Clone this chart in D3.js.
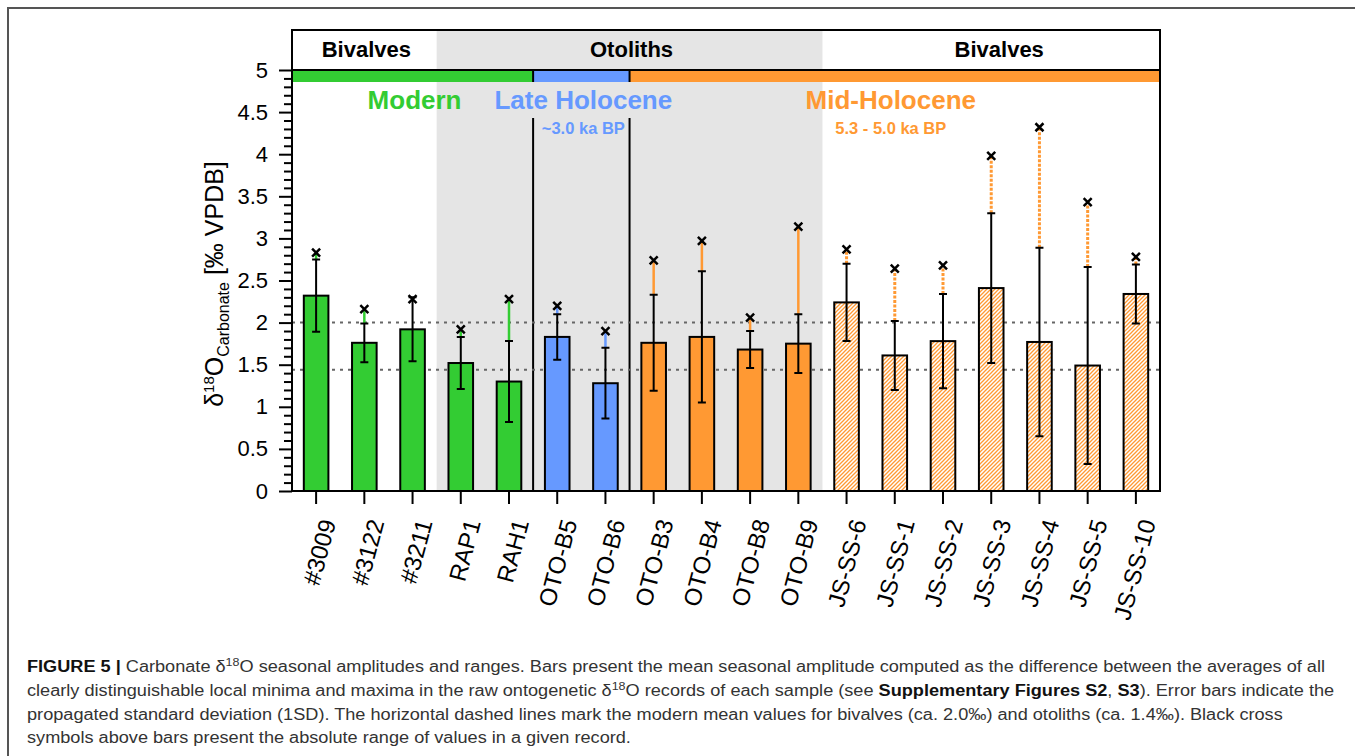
<!DOCTYPE html>
<html>
<head>
<meta charset="utf-8">
<script src="https://cdn.jsdelivr.net/npm/d3@7"></script>
<style>
  html, body { margin: 0; padding: 0; background: #fff; }
  svg { display: block; font-family: "Liberation Sans", Arial, sans-serif; }
</style>
</head>
<body>
<svg id="fig" width="1355" height="756"></svg>
<script>
// sample names (x categories)
const samples = ["#3009", "#3122", "#3211", "RAP1", "RAH1", "OTO-B5", "OTO-B6", "OTO-B3", "OTO-B4", "OTO-B8", "OTO-B9",
                 "JS-SS-6", "JS-SS-1", "JS-SS-2", "JS-SS-3", "JS-SS-4", "JS-SS-5", "JS-SS-10"];
const material = ["Bivalves", "Bivalves", "Bivalves", "Otoliths", "Otoliths", "Otoliths", "Otoliths", "Otoliths", "Otoliths", "Otoliths", "Otoliths",
                  "Bivalves", "Bivalves", "Bivalves", "Bivalves", "Bivalves", "Bivalves", "Bivalves"];
const period = ["Modern", "Modern", "Modern", "Modern", "Modern", "Late Holocene", "Late Holocene",
                "Mid-Holocene", "Mid-Holocene", "Mid-Holocene", "Mid-Holocene", "Mid-Holocene", "Mid-Holocene", "Mid-Holocene",
                "Mid-Holocene", "Mid-Holocene", "Mid-Holocene", "Mid-Holocene"];
// mean seasonal amplitude
const amplitude = [2.32, 1.76, 1.92, 1.52, 1.30, 1.83, 1.28, 1.76, 1.83, 1.68, 1.75, 2.24, 1.61, 1.78, 2.41, 1.77, 1.49, 2.34];
// propagated 1SD
const sd = [0.43, 0.23, 0.38, 0.31, 0.48, 0.27, 0.42, 0.57, 0.78, 0.22, 0.35, 0.46, 0.41, 0.56, 0.89, 1.12, 1.17, 0.35];
// absolute range (cross symbols)
const range = [2.83, 2.16, 2.28, 1.92, 2.28, 2.20, 1.90, 2.74, 2.97, 2.06, 3.14, 2.87, 2.64, 2.68, 3.98, 4.32, 3.43, 2.78];
// modern reference means: bivalves, otoliths
const refLines = [2.0, 1.44];
const yTicks = [0, 0.5, 1, 1.5, 2, 2.5, 3, 3.5, 4, 4.5, 5];
const periods = ["Modern", "Late Holocene", "Mid-Holocene"];
const periodAges = ["", "~3.0 ka BP", "5.3 - 5.0 ka BP"];
const periodColors = { "Modern": "#33CC33", "Late Holocene": "#6699FF", "Mid-Holocene": "#FF9933" };

const data = samples.map((s, i) => ({
  name: s, material: material[i], period: period[i],
  mean: amplitude[i], sd: sd[i], range: range[i],
  hatched: period[i] === "Mid-Holocene" && material[i] === "Bivalves"
}));

const svg = d3.select("#fig");
const plotL = 292, plotR = 1160, plotT = 30, plotB = 491;

// 外框
svg.append("path")
  .attr("d", "M8,770 L8,8 L1370,8")
  .attr("fill", "none").attr("stroke", "#555").attr("stroke-width", 2);

const x = d3.scaleBand().domain(samples).range([plotL, plotR]).paddingInner(0.49).paddingOuter(0.245);
const y = d3.scaleLinear().domain([0, 5]).range([plotB, 70]);
const half = (x.step() - x.bandwidth()) / 2;
const edgeL = name => x(name) - half;
const edgeR = name => x(name) + x.bandwidth() + half;
const cx = name => x(name) + x.bandwidth() / 2;

// hatch pattern
const defs = svg.append("defs");
const pat = defs.append("pattern").attr("id", "hatch").attr("patternUnits", "userSpaceOnUse")
  .attr("width", 4).attr("height", 4);
pat.append("rect").attr("width", 4).attr("height", 4).attr("fill", "#fff");
pat.append("path").attr("d", "M-1,1 L1,-1 M0,4 L4,0 M3,5 L5,3")
  .attr("stroke", "#FF9933").attr("stroke-width", 1.3);

// runs of consecutive samples sharing a key
const runs = (key) => {
  const out = [];
  data.forEach(d => {
    const last = out[out.length - 1];
    if (last && last.key === d[key]) last.items.push(d);
    else out.push({ key: d[key], items: [d] });
  });
  return out;
};
const matRuns = runs("material");
const perRuns = runs("period");

// otolith grey background
matRuns.filter(r => r.key === "Otoliths").forEach(r => {
  svg.append("rect")
    .attr("x", edgeL(r.items[0].name)).attr("y", plotT)
    .attr("width", edgeR(r.items[r.items.length - 1].name) - edgeL(r.items[0].name))
    .attr("height", plotB - plotT).attr("fill", "#E5E5E5");
});

// header texts
matRuns.forEach(r => {
  const a = edgeL(r.items[0].name), b = edgeR(r.items[r.items.length - 1].name);
  svg.append("text").attr("x", (a + b) / 2 + (r.items.length > 5 && r.key === "Bivalves" ? 8 : 2)).attr("y", 57)
    .attr("text-anchor", "middle").attr("font-weight", "bold").attr("font-size", 22)
    .text(r.key);
});

// period strip
const stripH = 12;
const labelShift = { "Modern": 2, "Late Holocene": 2, "Mid-Holocene": -4 };
perRuns.forEach((r, i) => {
  const a = edgeL(r.items[0].name), b = edgeR(r.items[r.items.length - 1].name);
  svg.append("rect").attr("x", a).attr("y", y(5)).attr("width", b - a).attr("height", stripH)
    .attr("fill", periodColors[r.key]);
  const c = (a + b) / 2 + labelShift[r.key];
  svg.append("text").attr("x", c).attr("y", 109)
    .attr("text-anchor", "middle").attr("font-weight", "bold").attr("font-size", 26)
    .attr("fill", periodColors[r.key]).text(r.key);
  const age = periodAges[periods.indexOf(r.key)];
  if (age) {
    svg.append("text").attr("x", c).attr("y", 134)
      .attr("text-anchor", "middle").attr("font-weight", "bold").attr("font-size", 16.5)
      .attr("fill", periodColors[r.key]).text(age);
  }
  if (i > 0) {
    svg.append("line").attr("x1", a).attr("x2", a).attr("y1", y(5)).attr("y2", y(5) + stripH)
      .attr("stroke", "#000").attr("stroke-width", 2);
    svg.append("line").attr("x1", a).attr("x2", a).attr("y1", 118).attr("y2", plotB)
      .attr("stroke", "#000").attr("stroke-width", 2);
  }
});

// dashed reference lines
svg.selectAll(".ref").data(refLines).join("line")
  .attr("x1", plotL).attr("x2", plotR).attr("y1", d => y(d)).attr("y2", d => y(d))
  .attr("stroke", "#666").attr("stroke-width", 2).attr("stroke-dasharray", "3,5");

// bars
svg.selectAll(".bar").data(data).join("rect")
  .attr("x", d => x(d.name)).attr("width", x.bandwidth())
  .attr("y", d => y(d.mean)).attr("height", d => y(0) - y(d.mean))
  .attr("fill", d => d.hatched ? "url(#hatch)" : periodColors[d.period])
  .attr("stroke", "#000").attr("stroke-width", 2);

// range lines from error top to cross
data.filter(d => d.range > d.mean + d.sd).forEach(d => {
  svg.append("line").attr("x1", cx(d.name)).attr("x2", cx(d.name))
    .attr("y1", y(d.mean + d.sd)).attr("y2", y(d.range))
    .attr("stroke", periodColors[d.period]).attr("stroke-width", d.hatched ? 3 : 2.5)
    .attr("stroke-dasharray", d.hatched ? "3,1.5" : null);
});

// error bars
const cap = 4;
data.forEach(d => {
  const c = cx(d.name), t = y(d.mean + d.sd), b = y(d.mean - d.sd);
  svg.append("path")
    .attr("d", `M${c},${t}V${b}M${c - cap},${t}H${c + cap}M${c - cap},${b}H${c + cap}`)
    .attr("fill", "none").attr("stroke", "#000").attr("stroke-width", 2);
});

// crosses
const s = 4;
data.forEach(d => {
  const c = cx(d.name), r = y(d.range);
  svg.append("path")
    .attr("d", `M${c - s},${r - s}L${c + s},${r + s}M${c - s},${r + s}L${c + s},${r - s}`)
    .attr("stroke", "#000").attr("stroke-width", 2.5);
});

// frame
svg.append("rect").attr("x", plotL).attr("y", plotT).attr("width", plotR - plotL).attr("height", plotB - plotT)
  .attr("fill", "none").attr("stroke", "#000").attr("stroke-width", 2);
svg.append("line").attr("x1", plotL).attr("x2", plotR).attr("y1", y(5)).attr("y2", y(5))
  .attr("stroke", "#000").attr("stroke-width", 2);

// y axis
const minor = d3.range(0, 5.0001, 0.1).filter(v => Math.abs(v * 2 - Math.round(v * 2)) > 1e-6);
const yMinor = svg.append("g").attr("transform", `translate(${plotL},0)`)
  .call(d3.axisLeft(y).tickValues(minor).tickSize(8).tickFormat(""));
const yMajor = svg.append("g").attr("transform", `translate(${plotL},0)`)
  .call(d3.axisLeft(y).tickValues(yTicks).tickSize(13).tickPadding(11).tickFormat(d3.format("")));
[yMinor, yMajor].forEach(g => {
  g.select(".domain").remove();
  g.selectAll(".tick line").attr("stroke", "#000").attr("stroke-width", 2);
});
yMajor.selectAll(".tick text").attr("font-size", 22).attr("font-family", "Liberation Sans, Arial, sans-serif").attr("fill", "#000");

// x axis
const xAxis = svg.append("g").attr("transform", `translate(0,${plotB})`)
  .call(d3.axisBottom(x).tickSize(13).tickFormat(""));
xAxis.select(".domain").remove();
xAxis.selectAll(".tick line").attr("stroke", "#000").attr("stroke-width", 2);
svg.selectAll(".xlab").data(samples).join("text")
  .attr("transform", d => `translate(${cx(d) + 12},520) rotate(-75)`)
  .attr("text-anchor", "end").attr("dy", "0.35em").attr("font-size", 24)
  .text(d => d);

// y label
const yl = svg.append("text").attr("transform", "translate(223,284) rotate(-90)")
  .attr("text-anchor", "middle").attr("font-size", 25);
yl.append("tspan").text("δ");
yl.append("tspan").attr("font-size", 15).attr("dy", -9).text("18");
yl.append("tspan").attr("dy", 9).text("O");
yl.append("tspan").attr("font-size", 16).attr("dy", 6).text("Carbonate");
yl.append("tspan").attr("dy", -6).text(" [‰ VPDB]");

// caption
const capLines = [
  [["FIGURE 5 |", "b"], [" Carbonate δ"], ["18", "sup"], ["O seasonal amplitudes and ranges. Bars present the mean seasonal amplitude computed as the difference between the averages of all"]],
  [["clearly distinguishable local minima and maxima in the raw ontogenetic δ"], ["18", "sup"], ["O records of each sample (see "], ["Supplementary Figures S2", "b"], [", "], ["S3", "b"], ["). Error bars indicate the"]],
  [["propagated standard deviation (1SD). The horizontal dashed lines mark the modern mean values for bivalves (ca. 2.0‰) and otoliths (ca. 1.4‰). Black cross"]],
  [["symbols above bars present the absolute range of values in a given record."]]
];
const firstLineWidth = 1298;
const capNodes = capLines.map((parts, i) => {
  const t = svg.append("text").attr("x", 27).attr("y", 672 + i * 23.8)
    .attr("font-size", 16).attr("fill", "#333");
  let shifted = false;
  parts.forEach(([txt, kind]) => {
    const ts = t.append("tspan").text(txt);
    if (kind === "b") ts.attr("font-weight", "bold").attr("fill", "#111");
    if (kind === "sup") { ts.attr("font-size", 11).attr("dy", -6); shifted = true; }
    else if (shifted) { ts.attr("dy", 6); shifted = false; }
  });
  return t;
});
// 统一的水平压缩比例
const k = firstLineWidth / capNodes[0].node().getComputedTextLength();
capNodes.forEach(t => {
  t.attr("textLength", t.node().getComputedTextLength() * k).attr("lengthAdjust", "spacingAndGlyphs");
});
</script>
</body>
</html>
